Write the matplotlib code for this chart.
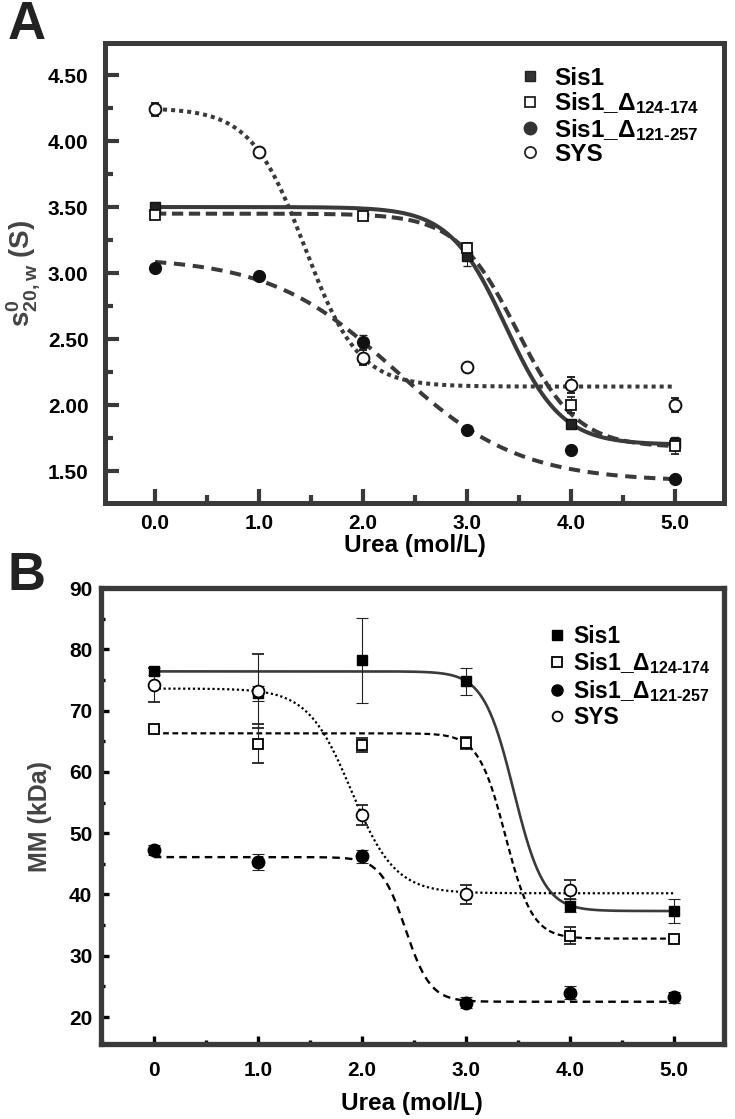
import matplotlib
matplotlib.use("Agg")
import matplotlib.pyplot as plt
import numpy as np
from matplotlib.ticker import MultipleLocator, FixedLocator

plt.rcParams['font.family'] = ['Liberation Sans', 'DejaVu Sans']
plt.rcParams['font.weight'] = 'bold'
plt.rcParams['axes.labelweight'] = 'bold'
plt.rcParams['mathtext.fontset'] = 'custom'
plt.rcParams['mathtext.rm'] = 'Liberation Sans:bold'
plt.rcParams['mathtext.bf'] = 'Liberation Sans:bold'
plt.rcParams['mathtext.it'] = 'Liberation Sans:bold'

labels = ['Sis1', r'Sis1_Δ$_{\mathbf{124\text{-}174}}$', r'Sis1_Δ$_{\mathbf{121\text{-}257}}$', 'SYS']
urea = [0, 1, 2, 3, 4, 5]

# panel A: sedimentation coefficient (S)
a_sis1_x = [0, 3, 4, 5]
a_sis1_y = [3.50, 3.13, 1.86, 1.71]
a_sis1_e = [0.02, 0.08, 0.03, 0.05]
a_d124_x = [0, 2, 3, 4, 5]
a_d124_y = [3.44, 3.43, 3.19, 2.00, 1.69]
a_d124_e = [0.02, 0.02, 0.04, 0.06, 0.06]
a_d121_x = [0, 1, 2, 3, 4, 5]
a_d121_y = [3.04, 2.98, 2.48, 1.81, 1.66, 1.44]
a_d121_e = [0.01, 0.01, 0.05, 0.01, 0.01, 0.01]
a_sys_x = [0, 1, 2, 3, 4, 5]
a_sys_y = [4.24, 3.92, 2.36, 2.29, 2.15, 2.00]
a_sys_e = [0.05, 0.02, 0.06, 0.01, 0.06, 0.05]
# fitted sigmoid (top, bottom, midpoint, width)
a_fit = [[3.50, 1.70, 3.37, 0.27],
         [3.45, 1.68, 3.48, 0.29],
         [3.12, 1.42, 2.30, 0.60],
         [4.25, 2.14, 1.44, 0.26]]

# panel B: molecular mass (kDa)
b_sis1_x = [0, 1, 2, 3, 4, 5]
b_sis1_y = [76.4, 72.8, 78.2, 74.8, 38.2, 37.3]
b_sis1_e = [0.6, 1.2, 6.9, 2.2, 1.0, 1.9]
b_d124_x = [0, 1, 2, 3, 4, 5]
b_d124_y = [67.0, 64.6, 64.4, 64.7, 33.3, 32.8]
b_d124_e = [0.3, 3.2, 1.2, 1.0, 1.4, 0.3]
b_d121_x = [0, 1, 2, 3, 4, 5]
b_d121_y = [47.3, 45.3, 46.2, 22.3, 24.0, 23.2]
b_d121_e = [0.8, 1.3, 1.0, 0.9, 1.1, 0.9]
b_sys_x = [0, 1, 2, 3, 4]
b_sys_y = [74.2, 73.2, 53.0, 40.0, 40.8]
b_sys_e = [2.8, 6.0, 1.6, 1.6, 1.5]
b_fit = [[76.4, 37.3, 3.46, 0.145],
         [66.3, 32.8, 3.38, 0.13],
         [46.1, 22.5, 2.42, 0.12],
         [73.6, 40.2, 1.90, 0.21]]

def sig(x, p):
    top, bot, x0, w = p
    return bot + (top - bot) / (1 + np.exp((x - x0) / w))

xs = np.linspace(0, 5, 400)
gray = '#3a3a3a'

fig = plt.figure(figsize=(7.35, 11.19), dpi=100)
axA = fig.add_axes([0.143, 0.5505, 0.842, 0.411])
axB = fig.add_axes([0.137, 0.067, 0.848, 0.4075])

# ---- A
axA.plot(xs, sig(xs, a_fit[0]), color=gray, lw=2.9, zorder=2)
axA.plot(xs, sig(xs, a_fit[1]), color=gray, lw=2.9, dashes=(2.8, 1.4), zorder=2)
axA.plot(xs, sig(xs, a_fit[2]), color=gray, lw=2.9, dashes=(2.8, 1.9), zorder=2)
axA.plot(xs, sig(xs, a_fit[3]), color=gray, lw=2.9, dashes=(1, 1), zorder=2)

ek = dict(ls='none', ecolor='#222222', elinewidth=0.8, capsize=3, capthick=0.8, zorder=3)
axA.errorbar(a_sis1_x, a_sis1_y, a_sis1_e, marker='s', ms=7.5, mfc='#222222', mec='#111111', mew=1, **ek)
axA.errorbar(a_d124_x, a_d124_y, a_d124_e, marker='s', ms=7.5, mfc='white', mec='#111111', mew=1.3, **ek)
axA.errorbar(a_d121_x, a_d121_y, a_d121_e, marker='o', ms=8.5, mfc='#111111', mec='#111111', mew=1, **ek)
axA.errorbar(a_sys_x, a_sys_y, a_sys_e, marker='o', ms=8.5, mfc='white', mec='#111111', mew=1.4, **ek)

hA = [plt.Line2D([], [], ls='none', marker='s', ms=7, mfc='#333333', mec='#222222'),
      plt.Line2D([], [], ls='none', marker='s', ms=7, mfc='white', mec='#222222', mew=1.3),
      plt.Line2D([], [], ls='none', marker='o', ms=9, mfc='#333333', mec='#333333'),
      plt.Line2D([], [], ls='none', marker='o', ms=8, mfc='white', mec='#222222', mew=1.3)]
axA.legend(hA, labels, loc='upper left', bbox_to_anchor=(0.655, 0.975), frameon=False,
           prop={'size': 17.5, 'weight': 'bold'}, handlelength=0.6, handletextpad=0.7,
           labelspacing=0.02, borderpad=0)

axA.set_xlim(-0.48, 5.47)
axA.set_ylim(1.258, 4.742)
axA.xaxis.set_major_locator(FixedLocator(urea))
axA.xaxis.set_minor_locator(MultipleLocator(0.5))
axA.yaxis.set_minor_locator(MultipleLocator(0.25))
axA.set_xticklabels(['0.0', '1.0', '2.0', '3.0', '4.0', '5.0'])
axA.set_yticks([1.5, 2.0, 2.5, 3.0, 3.5, 4.0, 4.5])
axA.set_yticklabels(['1.50', '2.00', '2.50', '3.00', '3.50', '4.00', '4.50'])
axA.tick_params(which='major', direction='in', length=10, width=3, color=gray, labelsize=15)
axA.tick_params(which='minor', direction='in', length=6, width=3, color=gray)
axA.tick_params(axis='y', which='major', pad=12)
axA.tick_params(axis='x', which='major', pad=8)
for s in axA.spines.values():
    s.set_linewidth(3.6)
    s.set_color(gray)
axA.set_xlabel('Urea (mol/L)', fontsize=17.5, fontweight='bold', labelpad=1)
axA.set_ylabel(r'$\mathbf{s}^{\mathbf{0}}_{\mathbf{20,w}}$ (S)', fontsize=20, fontweight='bold',
               color='#444444', labelpad=4)

# ---- B
axB.plot(xs, sig(xs, b_fit[0]), color=gray, lw=1.9, zorder=2)
axB.plot(xs, sig(xs, b_fit[1]), color='black', lw=1.6, dashes=(2.6, 1.6), zorder=2)
axB.plot(xs, sig(xs, b_fit[2]), color='black', lw=1.7, dashes=(3.2, 2.2), zorder=2)
axB.plot(xs, sig(xs, b_fit[3]), color='black', lw=1.6, dashes=(1, 1.2), zorder=2)

ekB = dict(ls='none', ecolor='#222222', elinewidth=0.8, capsize=4, capthick=0.8, zorder=3)
axB.errorbar(b_sis1_x, b_sis1_y, b_sis1_e, marker='s', ms=7.5, mfc='black', mec='black', **ekB)
axB.errorbar(b_d124_x, b_d124_y, b_d124_e, marker='s', ms=7.5, mfc='white', mec='black', mew=1.3, **ekB)
axB.errorbar(b_d121_x, b_d121_y, b_d121_e, marker='o', ms=9, mfc='black', mec='black', **ekB)
axB.errorbar(b_sys_x, b_sys_y, b_sys_e, marker='o', ms=8.5, mfc='white', mec='black', mew=1.3, **ekB)

hB = [plt.Line2D([], [], ls='none', marker='s', ms=7, mfc='black', mec='black'),
      plt.Line2D([], [], ls='none', marker='s', ms=7, mfc='white', mec='black', mew=1.3),
      plt.Line2D([], [], ls='none', marker='o', ms=8, mfc='black', mec='black'),
      plt.Line2D([], [], ls='none', marker='o', ms=7, mfc='white', mec='black', mew=1.3)]
axB.legend(hB, labels, loc='upper left', bbox_to_anchor=(0.705, 0.945), frameon=False,
           prop={'size': 16.5, 'weight': 'bold'}, handlelength=0.5, handletextpad=0.45,
           labelspacing=0.1, borderpad=0)

axB.set_xlim(-0.51, 5.48)
axB.set_ylim(15.6, 90)
axB.xaxis.set_major_locator(FixedLocator(urea))
axB.xaxis.set_minor_locator(MultipleLocator(0.5))
axB.yaxis.set_major_locator(MultipleLocator(10))
axB.yaxis.set_minor_locator(MultipleLocator(5))
axB.set_xticklabels(['0', '1.0', '2.0', '3.0', '4.0', '5.0'])
axB.tick_params(which='major', direction='in', length=6, width=2.4, color='black', labelsize=15)
axB.tick_params(which='minor', direction='in', length=3, width=2.4, color='black')
axB.tick_params(axis='y', which='major', pad=6)
axB.tick_params(axis='x', which='major', pad=12)
for s in axB.spines.values():
    s.set_linewidth(3.8)
    s.set_color(gray)
axB.set_xlabel('Urea (mol/L)', fontsize=17.5, fontweight='bold', labelpad=9)
axB.set_ylabel('MM (kDa)', fontsize=18, fontweight='bold', color='#444444', labelpad=12)

fig.text(0.01, 1.0, 'A', fontsize=38, fontweight='bold', va='top', color='#222222')
fig.text(0.01, 0.508, 'B', fontsize=38, fontweight='bold', va='top', color='#222222')

fig.savefig('out.png', dpi=100)
